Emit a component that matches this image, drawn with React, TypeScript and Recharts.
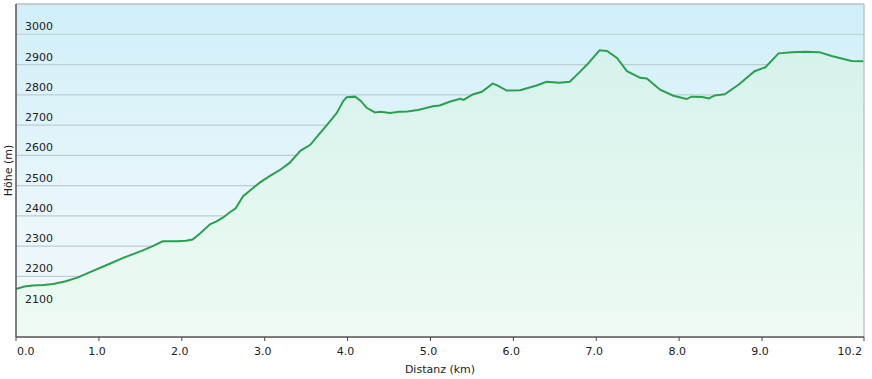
import {
    AreaChart,
    Area,
    XAxis,
    YAxis,
    CartesianGrid,
    ReferenceLine,
} from "recharts";

// distance along the route (km)
const distanceKm = [
    0.0, 0.1, 0.2, 0.33, 0.45, 0.6, 0.74, 0.9, 1.13, 1.3, 1.53, 1.65, 1.77, 1.94,
    2.05, 2.13, 2.22, 2.34, 2.42, 2.5, 2.58, 2.65, 2.74, 2.85, 2.94, 3.05, 3.18,
    3.3, 3.43, 3.55, 3.65, 3.75, 3.87, 3.95, 3.99, 4.09, 4.16, 4.23, 4.33, 4.4,
    4.51, 4.62, 4.72, 4.85, 5.03, 5.11, 5.24, 5.36, 5.4, 5.51, 5.62, 5.75, 5.8,
    5.92, 6.08, 6.28, 6.4, 6.56, 6.68, 6.8, 6.89, 7.04, 7.13, 7.25, 7.37, 7.53,
    7.61, 7.77, 7.93, 8.09, 8.15, 8.28, 8.36, 8.43, 8.55, 8.72, 8.91, 9.04, 9.2,
    9.36, 9.52, 9.69, 9.84, 10.08, 10.23,
];

// elevation (m)
const elevationM = [
    2158, 2167, 2170, 2172, 2175, 2184, 2196, 2215, 2242, 2262, 2286, 2300, 2316,
    2316, 2318, 2322, 2342, 2372, 2382, 2395, 2412, 2425, 2465, 2490, 2510, 2530,
    2551, 2575, 2615, 2635, 2668, 2700, 2740, 2780, 2792, 2794, 2780, 2757, 2742,
    2744, 2740, 2744, 2745, 2750, 2762, 2765, 2778, 2787, 2783, 2801, 2810, 2837,
    2832, 2814, 2815, 2831, 2843, 2840, 2843, 2875, 2900, 2947, 2945, 2922, 2878,
    2856, 2854, 2817, 2797, 2786, 2794, 2793, 2788, 2798, 2802, 2834, 2878, 2891,
    2937, 2941, 2942, 2941, 2928, 2912, 2911,
];

const xTicks = [0, 1, 2, 3, 4, 5, 6, 7, 8, 9, 10.23];
const yTicks = [2000, 2100, 2200, 2300, 2400, 2500, 2600, 2700, 2800, 2900, 3000, 3100];
const yLabelled = [2100, 2200, 2300, 2400, 2500, 2600, 2700, 2800, 2900, 3000];

const X_MAX = 10.23;
const Y_MIN = 2000;
const Y_MAX = 3100;

const FONT = "'DejaVu Sans', Verdana, sans-serif";

const data = distanceKm.map((km, i) => ({ km, elevation: elevationM[i] }));

// first label starts at the axis, last one ends at the right edge
const XTick = (props: any) => {
    const { x, y, payload, index } = props;
    const last = index === xTicks.length - 1;
    const anchor = index === 0 ? "start" : last ? "end" : "middle";
    const tx = index === 0 ? x + 1 : last ? x - 2 : x - 2;
    return (
        <text
            x={tx}
            y={y}
            dy="0.71em"
            textAnchor={anchor}
            fontSize={11}
            fill="#222"
            fontFamily={FONT}
        >
            {payload.value.toFixed(1)}
        </text>
    );
};

// labels sit inside the plot, just above each grid line
const YTick = (props: any) => {
    const { y, payload } = props;
    if (!yLabelled.includes(payload.value)) return null;
    return (
        <text x={25} y={y - 4} fontSize={11} fill="#222" fontFamily={FONT}>
            {payload.value}
        </text>
    );
};

const YLabel = (props: any) => {
    const vb = props.viewBox || {};
    const cy = (vb.y ?? 4) + (vb.height ?? 333) / 2;
    return (
        <text
            x={12}
            y={cy}
            transform={`rotate(-90, 12, ${cy})`}
            textAnchor="middle"
            fontSize={11}
            fill="#222"
            fontFamily={FONT}
        >
            Höhe (m)
        </text>
    );
};

export default function App() {
    return (
        <div style={{ position: "absolute", left: 0, top: 0, width: 872, height: 379 }}>
            <AreaChart
                width={872}
                height={379}
                data={data}
                margin={{ top: 4, right: 8, left: 16, bottom: 0 }}
            >
                <defs>
                    <linearGradient id="bgGrad" x1="0" y1="0" x2="0" y2="1">
                        <stop offset="0%" stopColor="#d0eff9" />
                        <stop offset="70%" stopColor="#ecf7fb" />
                        <stop offset="100%" stopColor="#f1f9fb" />
                    </linearGradient>
                    <linearGradient id="areaGrad" x1="0" y1="0" x2="0" y2="1">
                        <stop offset="0%" stopColor="#d6f2ec" />
                        <stop offset="100%" stopColor="#eefbf2" />
                    </linearGradient>
                </defs>
                <CartesianGrid
                    vertical={false}
                    stroke="#bccdd4"
                    strokeWidth={1.2}
                    fill="url(#bgGrad)"
                    fillOpacity={1}
                />
                <XAxis
                    dataKey="km"
                    type="number"
                    domain={[0, X_MAX]}
                    ticks={xTicks}
                    allowDataOverflow
                    interval={0}
                    height={42}
                    axisLine={{ stroke: "#555", strokeWidth: 1.5 }}
                    tickLine={{ stroke: "#444" }}
                    tickSize={4}
                    tickMargin={6}
                    tick={<XTick />}
                    label={{
                        value: "Distanz  (km)",
                        position: "insideBottom",
                        offset: 6,
                        fontSize: 11,
                        fill: "#222",
                        fontFamily: FONT,
                        style: { whiteSpace: "pre" },
                    }}
                />
                <YAxis
                    type="number"
                    domain={[Y_MIN, Y_MAX]}
                    ticks={yTicks}
                    allowDataOverflow
                    mirror
                    tickLine={false}
                    axisLine={{ stroke: "#555", strokeWidth: 1.5 }}
                    tick={<YTick />}
                    label={<YLabel />}
                />
                <ReferenceLine y={Y_MAX} stroke="#c4c4c4" strokeWidth={1.5} />
                <ReferenceLine x={X_MAX} stroke="#c4c4c4" strokeWidth={1.5} />
                <Area
                    type="linear"
                    dataKey="elevation"
                    stroke="#29a04e"
                    strokeWidth={2}
                    fill="url(#areaGrad)"
                    fillOpacity={1}
                    baseValue={Y_MIN}
                    dot={false}
                    activeDot={false}
                    isAnimationActive={false}
                />
            </AreaChart>
        </div>
    );
}
